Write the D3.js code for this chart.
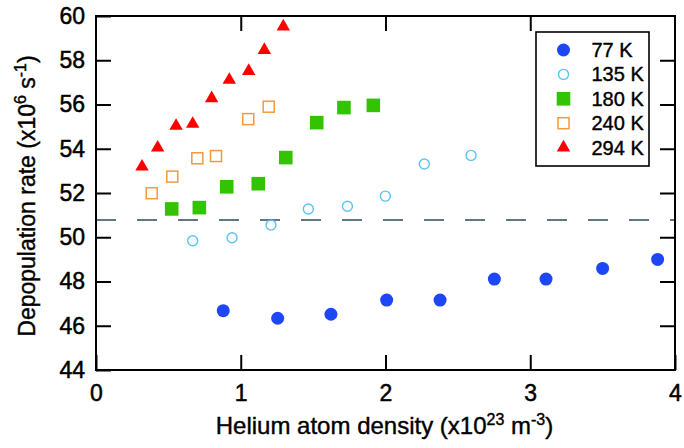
<!DOCTYPE html>
<html>
<head>
<meta charset="utf-8">
<script src="https://cdn.jsdelivr.net/npm/d3@7"></script>
<style>
  body { margin: 0; background: #fff; }
  svg { display: block; font-family: "Liberation Sans", Arial, sans-serif; }
</style>
</head>
<body>
<div id="chart"></div>
<script>
// data: helium density (x10^23 m^-3) vs depopulation rate (x10^6 s^-1)
const x77 = [0.879, 1.255, 1.623, 2.008, 2.377, 2.752, 3.109, 3.500, 3.880];
const y77 = [46.68, 46.34, 46.52, 47.16, 47.16, 48.11, 48.11, 48.59, 49.00];

const x135 = [0.668, 0.940, 1.209, 1.467, 1.737, 1.999, 2.268, 2.591];
const y135 = [49.84, 49.98, 50.55, 51.28, 51.40, 51.86, 53.31, 53.70];

const x180 = [0.523, 0.714, 0.903, 1.121, 1.311, 1.525, 1.713, 1.916];
const y180 = [51.28, 51.34, 52.28, 52.42, 53.60, 55.18, 55.86, 55.96];

const x240 = [0.385, 0.527, 0.700, 0.829, 1.052, 1.193];
const y240 = [51.99, 52.74, 53.57, 53.67, 55.34, 55.90];

const x294 = [0.318, 0.426, 0.553, 0.668, 0.799, 0.921, 1.055, 1.163, 1.294];
const y294 = [53.19, 54.05, 55.03, 55.12, 56.28, 57.11, 57.51, 58.46, 59.52];

const refLevel = 50.78;

const xTicks = [0, 1, 2, 3, 4];
const yTicks = [44, 46, 48, 50, 52, 54, 56, 58, 60];

const series = [
  { label: '77 K',  xs: x77,  ys: y77,  shape: 'circle', fill: '#1c46f6', stroke: 'none' },
  { label: '135 K', xs: x135, ys: y135, shape: 'circle-open', fill: 'none', stroke: '#5cc3f7' },
  { label: '180 K', xs: x180, ys: y180, shape: 'square', fill: '#33c300', stroke: 'none' },
  { label: '240 K', xs: x240, ys: y240, shape: 'square-open', fill: 'none', stroke: '#f59a3c' },
  { label: '294 K', xs: x294, ys: y294, shape: 'triangle', fill: '#ff0000', stroke: 'none' }
];

const width = 684, height = 448;
const margin = { top: 16, right: 9, bottom: 78, left: 96 };

const svg = d3.select('#chart').append('svg')
  .attr('width', width)
  .attr('height', height);

const x = d3.scaleLinear().domain([0, 4]).range([margin.left, width - margin.right]);
const y = d3.scaleLinear().domain([44, 60]).range([height - margin.bottom, margin.top]);

// dashed reference line
svg.append('line')
  .attr('x1', x(0)).attr('x2', x(4))
  .attr('y1', y(refLevel)).attr('y2', y(refLevel))
  .attr('stroke', '#5f7883')
  .attr('stroke-width', 2)
  .attr('stroke-dasharray', '20,21');

// axes with inward ticks
const tickLen = 15;
svg.append('g')
  .attr('transform', `translate(0,${y(44)})`)
  .call(d3.axisBottom(x).tickValues(xTicks).tickSize(-tickLen).tickPadding(15).tickFormat(d3.format('d')));
svg.append('g')
  .attr('transform', `translate(0,${y(60)})`)
  .call(d3.axisTop(x).tickValues(xTicks.slice(1, -1)).tickSize(-tickLen).tickFormat(''));
svg.append('g')
  .attr('transform', `translate(${x(0)},0)`)
  .call(d3.axisLeft(y).tickValues(yTicks).tickSize(-tickLen).tickPadding(11).tickFormat(d3.format('d')));
svg.append('g')
  .attr('transform', `translate(${x(4)},0)`)
  .call(d3.axisRight(y).tickValues(yTicks.slice(1, -1)).tickSize(-tickLen).tickFormat(''));

svg.selectAll('.domain').remove();
svg.selectAll('.tick line').attr('stroke', '#000').attr('stroke-width', 2);
svg.selectAll('.tick text')
  .attr('fill', '#000').attr('stroke', '#000').attr('stroke-width', 0.5)
  .attr('font-size', 23).attr('font-family', '"Liberation Sans", Arial, sans-serif');

// frame
svg.append('rect')
  .attr('x', x(0)).attr('y', y(60))
  .attr('width', x(4) - x(0)).attr('height', y(44) - y(60))
  .attr('fill', 'none').attr('stroke', '#000').attr('stroke-width', 2);

function drawMarker(g, shape, fill, stroke) {
  if (shape === 'circle') {
    g.append('circle').attr('r', 6.5).attr('fill', fill);
  } else if (shape === 'circle-open') {
    g.append('circle').attr('r', 5).attr('fill', 'none').attr('stroke', stroke).attr('stroke-width', 1.4);
  } else if (shape === 'square') {
    g.append('rect').attr('x', -6.8).attr('y', -6.8).attr('width', 13.6).attr('height', 13.6).attr('fill', fill);
  } else if (shape === 'square-open') {
    g.append('rect').attr('x', -5.5).attr('y', -5.5).attr('width', 11).attr('height', 11)
      .attr('fill', 'none').attr('stroke', stroke).attr('stroke-width', 1.5);
  } else {
    g.append('path').attr('d', d3.symbol(d3.symbolTriangle, 78)()).attr('fill', fill);
  }
}

series.forEach(s => {
  const pts = s.xs.map((v, i) => [v, s.ys[i]]);
  svg.append('g').selectAll('g')
    .data(pts)
    .enter()
    .append('g')
    .attr('transform', d => `translate(${x(d[0])},${y(d[1])})`)
    .each(function () { drawMarker(d3.select(this), s.shape, s.fill, s.stroke); });
});

// legend
const legend = svg.append('g');
legend.append('rect')
  .attr('x', 536).attr('y', 32)
  .attr('width', 113).attr('height', 134)
  .attr('fill', '#fff').attr('stroke', '#000').attr('stroke-width', 1.6);

series.forEach((s, i) => {
  const row = legend.append('g').attr('transform', `translate(563.5,${50 + i * 24.4})`);
  drawMarker(row, s.shape, s.fill, s.stroke);
  row.append('text')
    .attr('x', 28).attr('y', 7)
    .attr('font-size', 20)
    .attr('fill', '#000').attr('stroke', '#000').attr('stroke-width', 0.4)
    .text(s.label);
});

// axis titles
const xt = svg.append('text')
  .attr('x', (x(0) + x(4)) / 2 - 1)
  .attr('y', 434)
  .attr('text-anchor', 'middle')
  .attr('font-size', 24)
  .attr('fill', '#000').attr('stroke', '#000').attr('stroke-width', 0.4);
xt.append('tspan').text('Helium atom density (x10');
xt.append('tspan').attr('dy', -9).attr('font-size', 16).text('23');
xt.append('tspan').attr('dy', 9).text(' m');
xt.append('tspan').attr('dy', -9).attr('font-size', 16).text('-3');
xt.append('tspan').attr('dy', 9).text(')');

const yt = svg.append('text')
  .attr('transform', `translate(35,${(y(44) + y(60)) / 2 + 3}) rotate(-90)`)
  .attr('text-anchor', 'middle')
  .attr('font-size', 23)
  .attr('fill', '#000').attr('stroke', '#000').attr('stroke-width', 0.4);
yt.append('tspan').text('Depopulation rate (x10');
yt.append('tspan').attr('dy', -9).attr('font-size', 16).text('6');
yt.append('tspan').attr('dy', 9).text(' s');
yt.append('tspan').attr('dy', -9).attr('font-size', 16).text('-1');
yt.append('tspan').attr('dy', 9).text(')');
</script>
</body>
</html>
